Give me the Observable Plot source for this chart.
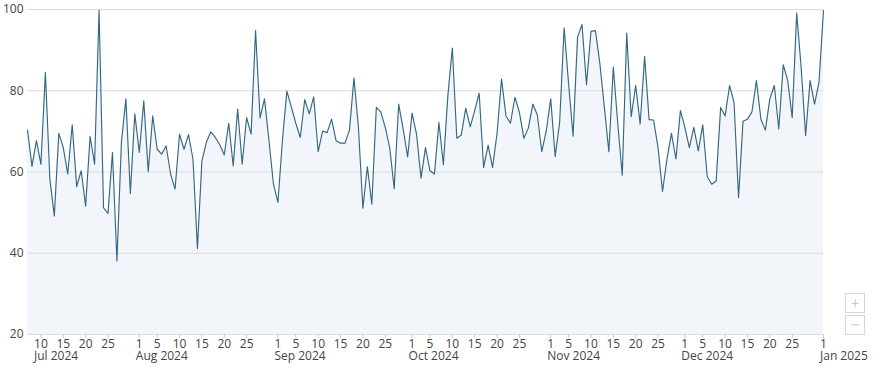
<!DOCTYPE html>
<html>
<head>
<meta charset="utf-8">
<script src="https://cdn.jsdelivr.net/npm/d3@7"></script>
<script src="https://cdn.jsdelivr.net/npm/@observablehq/plot@0.6"></script>
<style>
  html, body { margin: 0; padding: 0; background: #fff; }
  #wrap { position: relative; width: 875px; height: 373px; overflow: hidden; }
  .zbtn { position: absolute; left: 845px; width: 18px; height: 18px; border: 1px solid #d6d6d6;
          background: #fff; color: #b5b5b5; font: 300 17px/17px 'Open Sans', sans-serif; text-align: center; box-sizing: content-box; }
</style>
</head>
<body>
<div id="wrap"></div>
<script>
// ---- data (daily values, starting 2024-07-07) ----
const startDate = "2024-07-07";
const julValues = [70.3, 61.4, 67.7, 61.9, 84.5, 58.2, 49.2, 69.5, 66, 59.5, 71.6, 56.4, 60.3, 51.6, 68.7, 61.9, 99.8, 51.2, 49.8, 64.8, 38.1, 67.3, 78, 54.7, 74.3];
const augValues = [64.8, 77.5, 60.1, 73.8, 65.6, 64.4, 66.4, 59.5, 55.8, 69.3, 65.6, 69.2, 63.2, 41.2, 62.7, 67.3, 69.9, 68.5, 66.7, 64.2, 72, 61.5, 75.5, 61.9, 73.4, 69.3, 94.8, 73.3, 78, 67.7, 57];
const sepValues = [52.5, 67.7, 79.9, 76, 72, 68.5, 77.8, 74.3, 78.5, 65, 70.1, 69.7, 73, 67.7, 67.1, 67.1, 70.3, 83.1, 71, 51.1, 61.3, 52.1, 75.9, 74.8, 71, 66, 55.9, 76.7, 70.6, 63.7];
const octValues = [74.5, 69.3, 58.5, 66, 60.3, 59.5, 72.2, 61.8, 78.8, 90.5, 68.3, 69.1, 75.7, 71.1, 75.1, 79.4, 61.1, 66.6, 61.1, 69.5, 82.9, 73.8, 72, 78.4, 74.7, 68.3, 70.8, 76.7, 74.1, 65, 70.1];
const novValues = [78, 63.8, 72.2, 95.5, 81.7, 68.8, 93.2, 96.3, 81.5, 94.6, 94.8, 86.6, 75.9, 65, 85.8, 71.8, 59.2, 94.2, 73.6, 81.3, 71.8, 88.4, 72.9, 72.8, 66, 55.2, 63.2, 69.5, 63.2, 75.1];
const decValues = [71, 66, 71, 65.2, 71.6, 58.9, 57, 57.8, 75.9, 73.8, 81.3, 77.1, 53.7, 72.5, 73, 74.8, 82.5, 73, 70.3, 78, 81.3, 70.6, 86.4, 82.5, 73.4, 99.1, 85.8, 69, 82.5, 76.7, 82.1];
const janValues = [99.8];

// ---- axis ticks ----
const yTicks = [20, 40, 60, 80, 100];
const xTickDates = ["2024-07-10","2024-07-15","2024-07-20","2024-07-25",
  "2024-08-01","2024-08-05","2024-08-10","2024-08-15","2024-08-20","2024-08-25",
  "2024-09-01","2024-09-05","2024-09-10","2024-09-15","2024-09-20","2024-09-25",
  "2024-10-01","2024-10-05","2024-10-10","2024-10-15","2024-10-20","2024-10-25",
  "2024-11-01","2024-11-05","2024-11-10","2024-11-15","2024-11-20","2024-11-25",
  "2024-12-01","2024-12-05","2024-12-10","2024-12-15","2024-12-20","2024-12-25",
  "2025-01-01"];
const monthTickDates = ["2024-07-10","2024-08-01","2024-09-01","2024-10-01","2024-11-01","2024-12-01","2025-01-01"];
const monthTickLabels = ["Jul 2024","Aug 2024","Sep 2024","Oct 2024","Nov 2024","Dec 2024","Jan 2025"];

// ---- build table ----
const allValues = [].concat(julValues, augValues, sepValues, octValues, novValues, decValues, janValues);
const parseDay = s => new Date(s + "T00:00:00Z");
const t0 = parseDay(startDate);
const data = allValues.map((v, i) => ({date: d3.utcDay.offset(t0, i), value: v}));
const xTicks = xTickDates.map(parseDay);
const plainTicks = xTickDates.filter(s => !monthTickDates.includes(s)).map(parseDay);
const monthTicks = monthTickDates.map((s, i) => {
  const d = parseDay(s);
  return {date: d, day: String(d.getUTCDate()), label: d.getUTCDate() + "\n" + monthTickLabels[i]};
});

const chart = Plot.plot({
  width: 875,
  height: 373,
  marginLeft: 27,
  marginRight: 52,
  marginTop: 9,
  marginBottom: 39,
  style: {fontFamily: "'Open Sans', sans-serif", fontSize: "12px", color: "#444", background: "transparent", overflow: "visible"},
  x: {type: "utc", domain: [data[0].date, data[data.length - 1].date], label: null},
  y: {domain: [20, 100], label: null},
  marks: [
    Plot.areaY(data, {x: "date", y1: yTicks[0], y2: "value", fill: "#f2f6fa", curve: "linear"}),
    Plot.gridY(yTicks, {stroke: "#dcdcdc", strokeOpacity: 1, strokeWidth: 1}),
    Plot.lineY(data, {x: "date", y: "value", stroke: "#356784", strokeWidth: 1.15, curve: "linear"}),
    Plot.axisY(yTicks, {tickSize: 0, tickPadding: 4, fill: "#444", fontSize: 12, label: null}),
    Plot.axisX(xTicks, {tickSize: 4, stroke: "#ccc", text: null, label: null}),
    Plot.axisX(plainTicks, {tickSize: 0, tickPadding: 5, fill: "#444", fontSize: 12, label: null,
      tickFormat: d => String(d.getUTCDate())}),
    Plot.text(monthTicks.filter(d => d.day.length === 1), {x: "date", text: "label", frameAnchor: "bottom",
      lineAnchor: "top", lineHeight: 0.98, dy: 5, dx: -3.5, textAnchor: "start", fill: "#444", fontSize: 12}),
    Plot.text(monthTicks.filter(d => d.day.length === 2), {x: "date", text: "label", frameAnchor: "bottom",
      lineAnchor: "top", lineHeight: 0.98, dy: 5, dx: -6.9, textAnchor: "start", fill: "#444", fontSize: 12})
  ]
});

const wrap = document.getElementById("wrap");
wrap.appendChild(chart);
const plus = document.createElement("div");
plus.className = "zbtn"; plus.style.top = "293px"; plus.textContent = "+";
const minus = document.createElement("div");
minus.className = "zbtn"; minus.style.top = "315px"; minus.textContent = "\u2212";
wrap.appendChild(plus);
wrap.appendChild(minus);
</script>
</body>
</html>
